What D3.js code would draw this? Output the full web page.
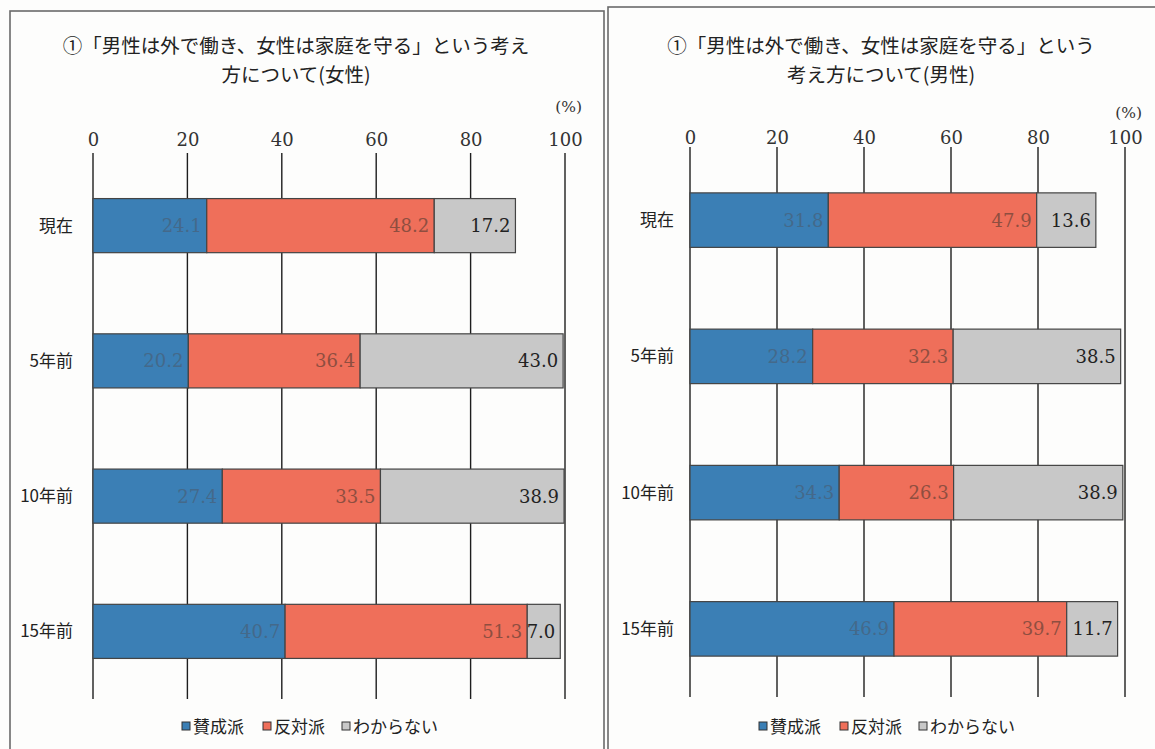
<!DOCTYPE html>
<html>
<head>
<meta charset="utf-8">
<script src="https://cdn.jsdelivr.net/npm/d3@7/dist/d3.min.js"></script>
<style>
  body { margin: 0; background: #fdfdfc; }
  svg { display: block; }
</style>
</head>
<body>
<div id="canvas"></div>
<script>
/*
 * Stacked bar charts: opinions on gender roles
 */

var categories = ["現在", "5年前", "10年前", "15年前"];
var seriesNames = ["賛成派", "反対派", "わからない"];
var ticks = [0, 20, 40, 60, 80, 100];

// women
var womenAgree = [24.1, 20.2, 27.4, 40.7];
var womenOppose = [48.2, 36.4, 33.5, 51.3];
var womenUnknown = [17.2, 43.0, 38.9, 7.0];

// men
var menAgree = [31.8, 28.2, 34.3, 46.9];
var menOppose = [47.9, 32.3, 26.3, 39.7];
var menUnknown = [13.6, 38.5, 38.9, 11.7];

var womenTitle = ["①「男性は外で働き、女性は家庭を守る」という考え", "方について(女性)"];
var menTitle = ["①「男性は外で働き、女性は家庭を守る」という", "考え方について(男性)"];

var COLORS = {
  fill: ["#3b7fb5", "#ef6f5a", "#c8c8c8"],
  label: ["#44698a", "#8e4e40", "#222"],
  stroke: "#444",
  grid: "#1e1e1e",
  frame: "#6a6a6a"
};

var JP = "'Noto Sans CJK JP', 'Noto Sans', sans-serif";
var SERIF = "'DejaVu Serif', 'Liberation Serif', serif";

/*
 * Build rows for d3.stack
 */
function buildRows(agree, oppose, unknown){
  var rows = [];
  for(var i = 0; i < categories.length; i++){
    rows.push({cat: categories[i], "賛成派": agree[i], "反対派": oppose[i], "わからない": unknown[i]});
  }
  return rows;
}

/*
 * Draw one chart panel
 */
function drawChart(svg, rows, title, opt){

  var g = svg.append("g");

  // frame
  g.append("rect").attr("x", opt.frame[0]).attr("y", opt.frame[1])
    .attr("width", opt.frame[2]).attr("height", opt.frame[3])
    .style("fill", "none").style("stroke", COLORS.frame).style("stroke-width", 1.6);

  // title
  for(var i = 0; i < title.length; i++){
    g.append("text").attr("x", opt.titleX).attr("y", 53 + i*29)
      .attr("text-anchor", "middle").style("font-family", JP).style("font-size", "19.5px")
      .style("fill", "#222").text(title[i]);
  }

  var x = d3.scaleLinear().domain([0, 100]).range([opt.x0, opt.x1]);
  var y = d3.scaleBand().domain(categories).range([opt.yTop, opt.yBottom]).paddingInner(0.6).paddingOuter(0.3);

  // gridlines
  g.selectAll(".grid").data(ticks).enter().append("line")
    .attr("x1", function(d){ return x(d); }).attr("x2", function(d){ return x(d); })
    .attr("y1", opt.yTop - 5).attr("y2", opt.yBottom)
    .style("stroke", COLORS.grid).style("stroke-width", 1.4);

  // top axis labels
  var axis = d3.axisTop(x).tickValues(ticks).tickSize(0).tickPadding(0);
  var ax = g.append("g").attr("transform", "translate(0," + opt.tickY + ")").call(axis);
  ax.select(".domain").remove();
  ax.selectAll("text").style("font-family", SERIF).style("font-size", "18px").style("fill", "#333");

  g.append("text").attr("x", x(100) + 17).attr("y", opt.pctY).attr("text-anchor", "end")
    .style("font-family", SERIF).style("font-size", "15.5px").style("fill", "#333").text("(%)");

  // category labels
  g.selectAll(".cat").data(categories).enter().append("text")
    .attr("x", opt.x0 - opt.catGap).attr("y", function(d){ return y(d) + y.bandwidth()/2; })
    .attr("dy", "0.35em").attr("text-anchor", "end")
    .style("font-family", JP).style("font-size", "17px").style("fill", "#222")
    .text(function(d){ return d; });

  // stacked bars
  var stack = d3.stack().keys(seriesNames)(rows);
  var layers = g.selectAll(".layer").data(stack).enter().append("g");

  layers.selectAll("rect").data(function(d){ return d; }).enter().append("rect")
    .attr("x", function(d){ return x(d[0]); })
    .attr("y", function(d){ return y(d.data.cat); })
    .attr("width", function(d){ return x(d[1]) - x(d[0]); })
    .attr("height", y.bandwidth())
    .style("fill", function(d){ return COLORS.fill[seriesNames.indexOf(d3.select(this.parentNode).datum().key)]; })
    .style("stroke", COLORS.stroke).style("stroke-width", 1.2);

  // value labels, right aligned in each segment
  layers.each(function(s, si){
    d3.select(this).selectAll("text").data(s).enter().append("text")
      .attr("x", function(d){ return x(d[1]) - 5; })
      .attr("y", function(d){ return y(d.data.cat) + y.bandwidth()/2; })
      .attr("dy", "0.36em").attr("text-anchor", "end")
      .style("font-family", SERIF).style("font-size", "18px").style("fill", COLORS.label[si])
      .text(function(d){ return d3.format(".1f")(d[1] - d[0]); });
  });

  // legend
  var leg = g.append("g").attr("transform", "translate(" + opt.legX + "," + opt.legY + ")");
  var offsets = [0, 81, 160];
  for(var k = 0; k < seriesNames.length; k++){
    leg.append("rect").attr("x", offsets[k]).attr("y", -5).attr("width", 8).attr("height", 8)
      .style("fill", COLORS.fill[k]).style("stroke", "#333").style("stroke-width", 1);
    leg.append("text").attr("x", offsets[k] + 11).attr("y", 0).attr("dy", "0.35em")
      .style("font-family", JP).style("font-size", "17px").style("fill", "#222").text(seriesNames[k]);
  }
}

svg = d3.select("#canvas").append("svg").attr("width", 1155).attr("height", 749);

drawChart(svg, buildRows(womenAgree, womenOppose, womenUnknown), womenTitle, {
  frame: [10, 11, 594, 760], titleX: 296,
  x0: 93, x1: 565, yTop: 158, yBottom: 699, tickY: 146, pctY: 112,
  catGap: 20, legX: 182, legY: 727
});

drawChart(svg, buildRows(menAgree, menOppose, menUnknown), menTitle, {
  frame: [608, 7, 580, 760], titleX: 881,
  x0: 690, x1: 1125, yTop: 152, yBottom: 697, tickY: 144, pctY: 118,
  catGap: 16, legX: 759, legY: 727
});
</script>
</body>
</html>
